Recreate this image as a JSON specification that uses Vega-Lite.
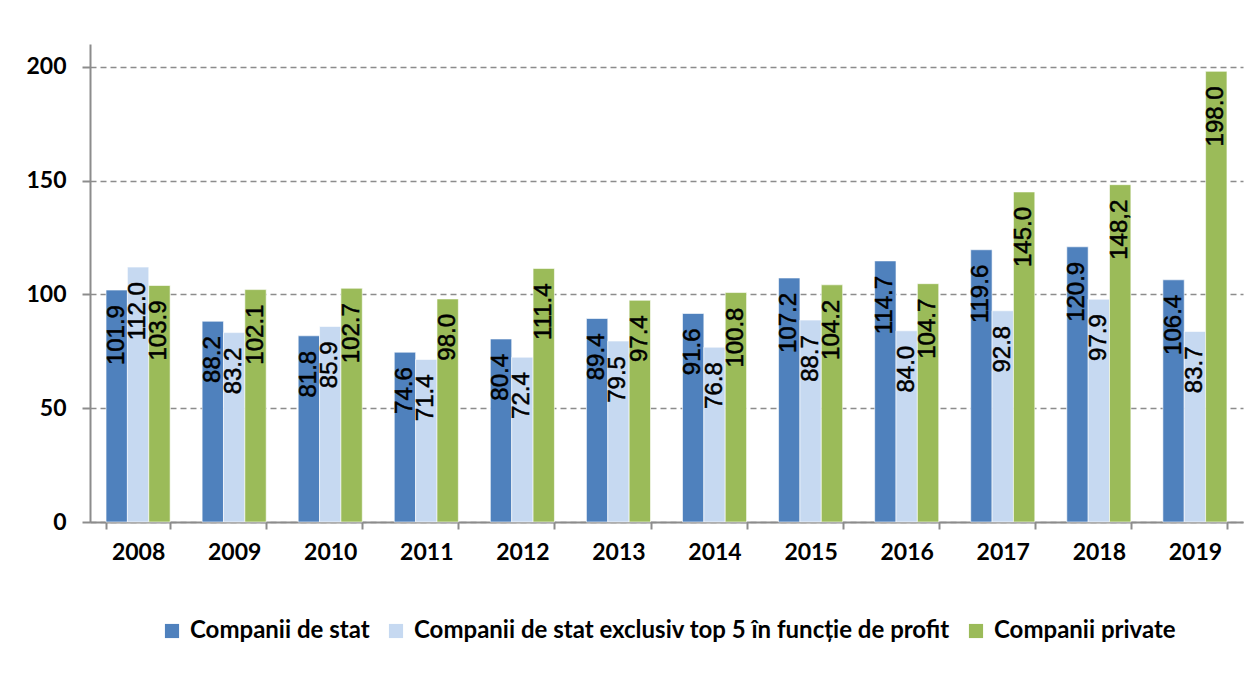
{
  "$schema": "https://vega.github.io/schema/vega-lite/v6.json",
  "width": 1153,
  "height": 478,
  "autosize": "none",
  "padding": {"left": 90, "top": 44, "right": 12, "bottom": 178},
  "background": "white",
  "data": {
    "values": [
      {"year": "2008", "series": "Companii de stat", "value": 101.9, "label": "101.9"},
      {"year": "2008", "series": "Companii de stat exclusiv top 5 în funcție de profit", "value": 112.0, "label": "112.0"},
      {"year": "2008", "series": "Companii private", "value": 103.9, "label": "103.9"},
      {"year": "2009", "series": "Companii de stat", "value": 88.2, "label": "88.2"},
      {"year": "2009", "series": "Companii de stat exclusiv top 5 în funcție de profit", "value": 83.2, "label": "83.2"},
      {"year": "2009", "series": "Companii private", "value": 102.1, "label": "102.1"},
      {"year": "2010", "series": "Companii de stat", "value": 81.8, "label": "81.8"},
      {"year": "2010", "series": "Companii de stat exclusiv top 5 în funcție de profit", "value": 85.9, "label": "85.9"},
      {"year": "2010", "series": "Companii private", "value": 102.7, "label": "102.7"},
      {"year": "2011", "series": "Companii de stat", "value": 74.6, "label": "74.6"},
      {"year": "2011", "series": "Companii de stat exclusiv top 5 în funcție de profit", "value": 71.4, "label": "71.4"},
      {"year": "2011", "series": "Companii private", "value": 98.0, "label": "98.0"},
      {"year": "2012", "series": "Companii de stat", "value": 80.4, "label": "80.4"},
      {"year": "2012", "series": "Companii de stat exclusiv top 5 în funcție de profit", "value": 72.4, "label": "72.4"},
      {"year": "2012", "series": "Companii private", "value": 111.4, "label": "111.4"},
      {"year": "2013", "series": "Companii de stat", "value": 89.4, "label": "89.4"},
      {"year": "2013", "series": "Companii de stat exclusiv top 5 în funcție de profit", "value": 79.5, "label": "79.5"},
      {"year": "2013", "series": "Companii private", "value": 97.4, "label": "97.4"},
      {"year": "2014", "series": "Companii de stat", "value": 91.6, "label": "91.6"},
      {"year": "2014", "series": "Companii de stat exclusiv top 5 în funcție de profit", "value": 76.8, "label": "76.8"},
      {"year": "2014", "series": "Companii private", "value": 100.8, "label": "100.8"},
      {"year": "2015", "series": "Companii de stat", "value": 107.2, "label": "107.2"},
      {"year": "2015", "series": "Companii de stat exclusiv top 5 în funcție de profit", "value": 88.7, "label": "88.7"},
      {"year": "2015", "series": "Companii private", "value": 104.2, "label": "104.2"},
      {"year": "2016", "series": "Companii de stat", "value": 114.7, "label": "114.7"},
      {"year": "2016", "series": "Companii de stat exclusiv top 5 în funcție de profit", "value": 84.0, "label": "84.0"},
      {"year": "2016", "series": "Companii private", "value": 104.7, "label": "104.7"},
      {"year": "2017", "series": "Companii de stat", "value": 119.6, "label": "119.6"},
      {"year": "2017", "series": "Companii de stat exclusiv top 5 în funcție de profit", "value": 92.8, "label": "92.8"},
      {"year": "2017", "series": "Companii private", "value": 145.0, "label": "145.0"},
      {"year": "2018", "series": "Companii de stat", "value": 120.9, "label": "120.9"},
      {"year": "2018", "series": "Companii de stat exclusiv top 5 în funcție de profit", "value": 97.9, "label": "97.9"},
      {"year": "2018", "series": "Companii private", "value": 148.2, "label": "148,2"},
      {"year": "2019", "series": "Companii de stat", "value": 106.4, "label": "106.4"},
      {"year": "2019", "series": "Companii de stat exclusiv top 5 în funcție de profit", "value": 83.7, "label": "83.7"},
      {"year": "2019", "series": "Companii private", "value": 198.0, "label": "198.0"}
    ]
  },
  "encoding": {
    "x": {
      "field": "year",
      "type": "nominal",
      "scale": {"paddingInner": 0.333, "paddingOuter": 0.167},
      "axis": {
        "title": null,
        "labelAngle": 0,
        "labelFont": "Lato",
        "labelFontWeight": "bold",
        "labelFontSize": 23,
        "labelColor": "#000000",
        "labelPadding": 12,
        "tickBand": "extent",
        "tickSize": 7,
        "tickColor": "#8c8c8c",
        "tickWidth": 2,
        "domainColor": "#8c8c8c",
        "domainWidth": 2,
        "grid": false
      }
    },
    "xOffset": {
      "field": "series",
      "type": "nominal",
      "sort": ["Companii de stat", "Companii de stat exclusiv top 5 în funcție de profit", "Companii private"],
      "scale": {"paddingInner": 0, "paddingOuter": 0}
    },
    "y": {
      "field": "value",
      "type": "quantitative",
      "scale": {"domain": [0, 210], "nice": false},
      "axis": {
        "title": null,
        "values": [0, 50, 100, 150, 200],
        "labelFont": "Lato",
        "labelFontWeight": "bold",
        "labelFontSize": 23,
        "labelColor": "#000000",
        "labelPadding": 16,
        "tickSize": 8,
        "tickColor": "#8c8c8c",
        "tickWidth": 2,
        "domainColor": "#8c8c8c",
        "domainWidth": 2,
        "grid": true,
        "gridColor": "#8c8c8c",
        "gridWidth": 1.5,
        "gridDash": [6, 4]
      }
    }
  },
  "layer": [
    {
      "mark": {"type": "bar", "stroke": "white", "strokeWidth": 0.6},
      "encoding": {
        "color": {
          "field": "series",
          "type": "nominal",
          "sort": ["Companii de stat", "Companii de stat exclusiv top 5 în funcție de profit", "Companii private"],
          "scale": {
            "domain": ["Companii de stat", "Companii de stat exclusiv top 5 în funcție de profit", "Companii private"],
            "range": ["#4F81BD", "#C6D9F1", "#9BBB59"]
          },
          "legend": {
            "title": null,
            "orient": "none",
            "direction": "horizontal",
            "legendX": 70,
            "legendY": 575,
            "symbolType": "square",
            "symbolSize": 200,
            "symbolStrokeWidth": 0,
            "symbolOpacity": 1,
            "labelFont": "Lato",
            "labelFontWeight": "bold",
            "labelFontSize": 24,
            "labelColor": "#000000",
            "labelLimit": 900,
            "columnPadding": 14,
            "labelOffset": 6
          }
        }
      }
    },
    {
      "mark": {
        "type": "text",
        "angle": 270,
        "align": "right",
        "baseline": "middle",
        "dx": -15,
        "font": "Liberation Sans",
        "fontSize": 24,
        "color": "#000000",
        "stroke": "#000000",
        "strokeWidth": 0.5
      },
      "encoding": {
        "text": {"field": "label", "type": "nominal"}
      }
    }
  ],
  "config": {
    "view": {"stroke": null}
  }
}
